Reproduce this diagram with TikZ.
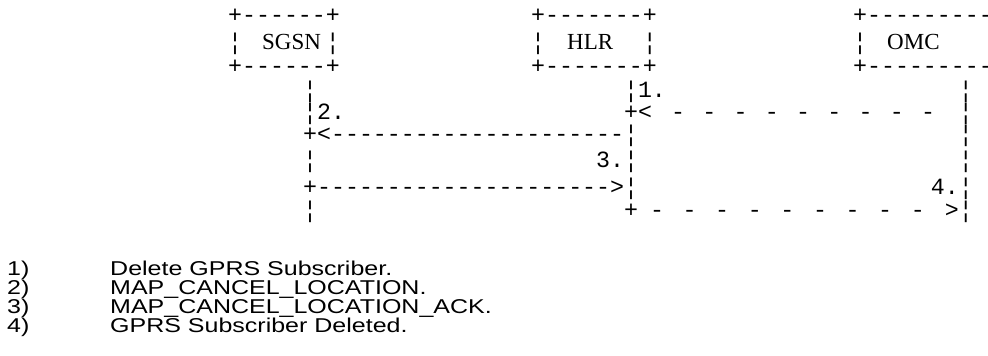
\documentclass[tikz,border=0pt]{standalone}
\usepackage{fontspec}
\setmainfont{Liberation Sans}
\newfontfamily\asciifont{Liberation Mono}
\newfontfamily\boxfont{Liberation Serif}
\newfontfamily\notefont[FakeStretch=1.25]{Liberation Sans}
\usetikzlibrary{positioning}

\begin{document}
\begin{tikzpicture}[
    x=1pt, y=-1pt,
    ascii/.style={font=\asciifont\fontsize{23.25}{23.25}\selectfont, inner sep=0pt, anchor=base west},
    entity/.style={font=\boxfont\fontsize{23}{23}\selectfont, inner sep=0pt, anchor=base west},
    note/.style={font=\notefont\fontsize{20}{20}\selectfont, inner sep=0pt, anchor=base west}
]
\useasboundingbox (0,0) rectangle (988,356);

% boxes
\node[ascii] (sgsntop) at (228,22) {+------+};
\node[ascii] (sgsnleft) at (228,49) {¦};
\node[ascii] (sgsnright) at (325.7,49) {¦};
\node[entity] (sgsn) at (262,49) {SGSN};
\node[ascii] (sgsnbot) at (228,73) {+------+};

\node[ascii] (hlrtop) at (531,22) {+-------+};
\node[ascii] (hlrleft) at (531,49) {¦};
\node[ascii] (hlrright) at (642.6,49) {¦};
\node[entity] (hlr) at (567,49) {HLR};
\node[ascii] (hlrbot) at (531,73) {+-------+};

\node[ascii] (omctop) at (853,22) {+----------};
\node[ascii] (omcleft) at (853,49) {¦};
\node[entity] (omc) at (887,49) {OMC};
\node[ascii] (omcbot) at (853,73) {+----------};

% lifelines, row by row
\node[ascii] (sgsnA) at ({303+13.95*0},97) {¦};
\node[ascii] (hlrA) at ({303+13.95*23},97) {¦1.};
\node[ascii] (omcA) at ({303+13.95*47},97) {¦};

\node[ascii] (sgsnB) at ({303+13.95*0},119) {¦2.};
\node[ascii] (hlrB) at ({303+13.95*23},119) {+<};
\foreach \i in {0,...,8}
    \node[ascii, anchor=base] (delmsg\i) at ({678+31.25*\i},119) {-};
\node[ascii] (omcB) at ({303+13.95*47},119) {¦};

\node[ascii] (cancelmsg) at ({303+13.95*0},141) {+<---------------------¦};
\node[ascii] (omcC) at ({303+13.95*47},141) {¦};

\node[ascii] (sgsnD) at ({303+13.95*0},167) {¦};
\node[ascii] (hlrD) at ({303+13.95*21},167) {3.¦};
\node[ascii] (omcD) at ({303+13.95*47},167) {¦};

\node[ascii] (ackmsg) at ({303+13.95*0},194) {+--------------------->¦};
\node[ascii] (omcE) at ({303+13.95*45},194) {4.¦};

\node[ascii] (sgsnF) at ({303+13.95*0},217) {¦};
\node[ascii] (hlrF) at ({303+13.95*23},217) {+};
\foreach \i in {0,...,8}
    \node[ascii, anchor=base] (donemsg\i) at ({657+32.6*\i},217) {-};
\node[ascii] (omcF) at ({303+13.95*46},217) {>¦};

% legend
\node[note] (n1) at (7,275) {1)};
\node[note] (t1) at (110,275) {Delete GPRS Subscriber.};
\node[note] (n2) at (7,294) {2)};
\node[note] (t2) at (110,294) {MAP\_CANCEL\_LOCATION.};
\node[note] (n3) at (7,313) {3)};
\node[note] (t3) at (110,313) {MAP\_CANCEL\_LOCATION\_ACK.};
\node[note] (n4) at (7,332) {4)};
\node[note] (t4) at (110,332) {GPRS Subscriber Deleted.};
\end{tikzpicture}
\end{document}
